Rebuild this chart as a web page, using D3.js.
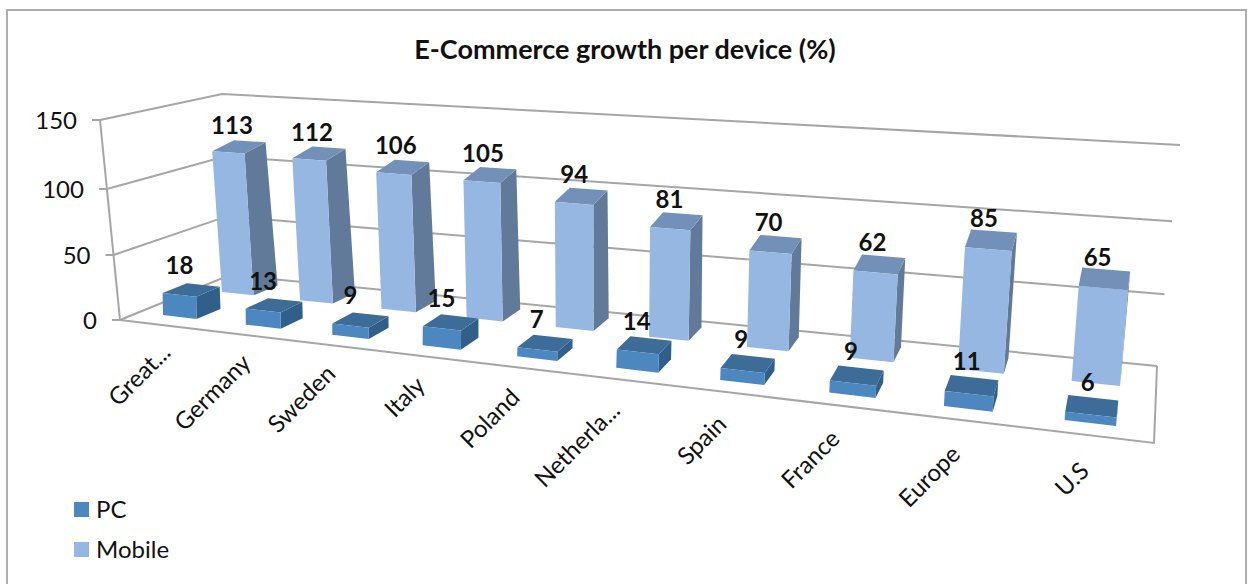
<!DOCTYPE html>
<html>
<head>
<meta charset="utf-8">
<script src="https://cdn.jsdelivr.net/npm/d3@7"></script>
<style>
  html, body { margin: 0; padding: 0; background: #fff; }
  svg { display: block; font-family: Lato, "Open Sans", sans-serif; }
</style>
</head>
<body>
<div id="chart"></div>
<script>
// chart data
const categories = ["Great...", "Germany", "Sweden", "Italy", "Poland", "Netherla...", "Spain", "France", "Europe", "U.S"];
const seriesNames = ["PC", "Mobile"];
const pcValues = [18, 13, 9, 15, 7, 14, 9, 9, 11, 6];
const mobileValues = [113, 112, 106, 105, 94, 81, 70, 62, 85, 65];
const yTicks = [0, 50, 100, 150];

const width = 1253, height = 584;

const svg = d3.select("#chart").append("svg")
  .attr("width", width)
  .attr("height", height);

// outer frame of the chart
svg.append("rect")
  .attr("x", 7).attr("y", 10)
  .attr("width", 1239).attr("height", 600)
  .attr("fill", "#fff")
  .attr("stroke", "#adadad")
  .attr("stroke-width", 2);

svg.append("text")
  .attr("x", 625).attr("y", 59)
  .attr("text-anchor", "middle")
  .attr("font-size", 27)
  .attr("font-weight", 700)
  .attr("fill", "#111")
  .text("E-Commerce growth per device (%)");

// ---- perspective helpers ----

const lerp = (p, q, t) => [p[0] + (q[0] - p[0]) * t, p[1] + (q[1] - p[1]) * t];

// bilinear map of the unit square onto a screen quad, corners (0,0) (1,0) (1,1) (0,1)
function makeQuad(p00, p10, p11, p01) {
  return (u, v) => {
    const a = lerp(p00, p10, u), b = lerp(p01, p11, u);
    return lerp(a, b, v);
  };
}

// bars get wider and further apart towards the right
const warp = (u, k = 1.25) => u / (u + k * (1 - u));

// plane of the bars at value 0 and at value 150
const barFloor = makeQuad([163, 315], [1116, 426], [1120, 386], [222, 292]);
const barCeil = makeQuad([160, 132], [1130, 216], [1138, 165], [209, 105]);

const xBand = d3.scaleBand().domain(categories).range([0, 1]).paddingInner(0.59).paddingOuter(0);
const zBand = d3.scaleBand().domain(seriesNames).range([0, 1.42]).paddingInner(0.58).paddingOuter(0);
const barHeight = d3.scaleLinear().domain([0, 150]).range([0, 1]);

function project(u, v, value) {
  const w = warp(u);
  return lerp(barFloor(w, v), barCeil(w, v), barHeight(value));
}

// ---- walls and gridlines ----
const wallHeight = d3.scaleLinear().domain(yTicks).range([0, 0.325, 0.655, 1]);
const wallFrontLeft = [[120, 320], [100, 120]];
const wallBackLeft = [[230, 275], [222, 94]];
const wallBackRight = [[1157, 366], [1180, 145]];
const floorFrontRight = [1154, 443];

const wallPoint = (corner, value) => lerp(corner[0], corner[1], wallHeight(value));
const line = d3.line();
const gridColor = "#a6a6a6";

const walls = svg.append("g").attr("fill", "none").attr("stroke", gridColor).attr("stroke-width", 2);

yTicks.forEach(t => {
  walls.append("path").attr("d", line([
    wallPoint(wallFrontLeft, t), wallPoint(wallBackLeft, t), wallPoint(wallBackRight, t)
  ]));
  const p = wallPoint(wallFrontLeft, t);
  walls.append("path").attr("d", line([[p[0] - 8, p[1]], p]));
  svg.append("text")
    .attr("x", p[0] - 23).attr("y", p[1] + 1)
    .attr("dy", "0.35em")
    .attr("text-anchor", "end")
    .attr("font-size", 24)
    .attr("fill", "#111")
    .text(t);
});
walls.append("path").attr("d", line([wallFrontLeft[1], wallFrontLeft[0]]));
walls.append("path").attr("d", line([wallFrontLeft[0], floorFrontRight, wallBackRight[0]]));

// ---- bars ----
const faceColors = {
  PC: { front: "#4c87bf", top: "#3d6c98", side: "#305f8a" },
  Mobile: { front: "#95b7e1", top: "#7391b8", side: "#617a99" }
};
const seriesValues = { PC: pcValues, Mobile: mobileValues };

const polyPath = pts => line(pts) + "Z";

// mobile row first, the PC row stands in front of it
[...seriesNames].reverse().forEach(name => {
  const colors = faceColors[name];
  const z0 = zBand(name), z1 = z0 + zBand.bandwidth();
  const g = svg.append("g").attr("class", "series-" + name);

  categories.forEach((cat, i) => {
    const value = seriesValues[name][i];
    const x0 = xBand(cat), x1 = x0 + xBand.bandwidth();
    const side = [project(x1, z0, 0), project(x1, z1, 0), project(x1, z1, value), project(x1, z0, value)];
    const top = [project(x0, z0, value), project(x1, z0, value), project(x1, z1, value), project(x0, z1, value)];
    const front = [project(x0, z0, 0), project(x1, z0, 0), project(x1, z0, value), project(x0, z0, value)];
    g.append("path").attr("d", polyPath(side)).attr("fill", colors.side);
    g.append("path").attr("d", polyPath(top)).attr("fill", colors.top);
    g.append("path").attr("d", polyPath(front)).attr("fill", colors.front);
  });
});

// value labels go on top of everything
const labelShift = {
  PC: u => [-12 + 8 * u, -24],
  Mobile: u => [-7, -21.5]
};
seriesNames.forEach(name => {
  const z = zBand(name) + zBand.bandwidth() / 2;
  categories.forEach((cat, i) => {
    const value = seriesValues[name][i];
    const u = xBand(cat) + xBand.bandwidth() / 2;
    const p = project(u, z, value);
    const shift = labelShift[name](u);
    svg.append("text")
      .attr("x", p[0] + shift[0]).attr("y", p[1] + shift[1])
      .attr("dy", "0.35em")
      .attr("text-anchor", "middle")
      .attr("font-size", 24)
      .attr("font-weight", 700)
      .attr("fill", "#111")
      .text(value);
  });
});

// category labels, rotated, ending under each bar
const labelStart = [156, 352], labelEnd = [1118, 476];
categories.forEach(cat => {
  const p = lerp(labelStart, labelEnd, warp(xBand(cat) + xBand.bandwidth() / 2, 1.32));
  svg.append("text")
    .attr("transform", `translate(${p[0]},${p[1]}) rotate(-45)`)
    .attr("text-anchor", "end")
    .attr("font-size", 24)
    .attr("fill", "#111")
    .text(cat);
});

// legend
const legendColors = [faceColors.PC.front, faceColors.Mobile.front];
const legendY = d3.scalePoint().domain(seriesNames).range([510, 550]);
seriesNames.forEach((name, i) => {
  svg.append("rect")
    .attr("x", 74).attr("y", legendY(name) - 8)
    .attr("width", 15).attr("height", 15)
    .attr("fill", legendColors[i]);
  svg.append("text")
    .attr("x", 96).attr("y", legendY(name))
    .attr("dy", "0.35em")
    .attr("font-size", 24)
    .attr("fill", "#111")
    .text(name);
});
</script>
</body>
</html>
